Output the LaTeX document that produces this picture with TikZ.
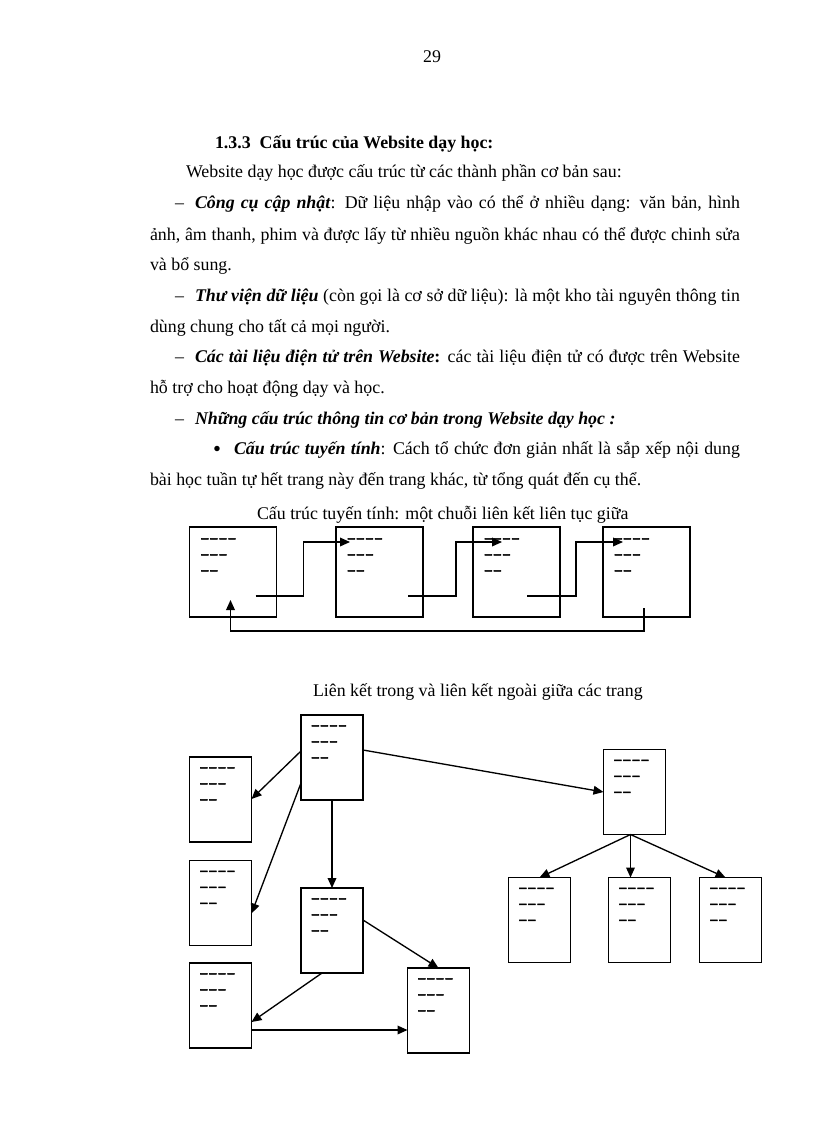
\documentclass[tikz,border=0pt]{standalone}
\usepackage{fontspec}
\setmainfont{Liberation Serif}
\newfontfamily\dashfont{Liberation Serif Bold}[FakeBold=4]
\usetikzlibrary{arrows.meta,calc}
\newcommand\ed{–\kern1.8pt}
\newcommand\dsh{\vtop{\dashfont\fontsize{10}{12}\selectfont\baselineskip=12pt\lineskiplimit=-30pt\lineskip=0pt\hbox{\ed\ed\ed–}\hbox{\ed\ed–}\hbox{\ed–}}}
\begin{document}
\begin{tikzpicture}[x=0.75pt,y=-0.75pt,font=\fontsize{13.4}{16}\selectfont]
\tikzset{
  pg/.style={draw, line width=1.4pt, inner sep=0pt, outer sep=0pt, minimum width=65.25pt, minimum height=67.5pt},
  pgs/.style={pg, line width=1.2pt, minimum width=46.5pt, minimum height=63.75pt},
  txt/.style={anchor=base west, inner sep=0pt, outer sep=0pt},
  dd/.style={anchor=base west, inner sep=0pt, outer sep=0pt},
  link/.style={line width=1pt, -{Triangle[length=7.5pt,width=6.5pt]}}
}
\fill[white] (0,0) rectangle (816,1123);
\useasboundingbox (0,0) rectangle (816,1123);

% ---------- text ----------
\node[anchor=base, inner sep=0pt] (pn) at (432,63) {29};
\node[txt, font=\fontsize{13.4}{16}\selectfont\bfseries] (h) at (215,149) {1.3.3\ \ Cấu trúc của Website dạy học:};
\node[txt] (l0) at (186,178) {Website dạy học được cấu trúc từ các thành phần cơ bản sau:};
\node[txt] (d1) at (175,209) {–};
\node[txt] (l1) at (195,209) {\makebox[408.75pt][s]{\textbf{\textit{Công cụ cập nhật}}: Dữ liệu nhập vào có thể ở nhiều dạng: văn bản, hình}};
\node[txt] (l2) at (150,240) {\makebox[442.5pt][s]{ảnh, âm thanh, phim và được lấy từ nhiều nguồn khác nhau có thể được chinh sửa}};
\node[txt] (l3) at (150,270) {và bổ sung.};
\node[txt] (d2) at (175,301) {–};
\node[txt] (l4) at (195,301) {\makebox[408.75pt][s]{\textbf{\textit{Thư viện dữ liệu}} (còn gọi là cơ sở dữ liệu): là một kho tài nguyên thông tin}};
\node[txt] (l5) at (150,332) {dùng chung cho tất cả mọi người.};
\node[txt] (d3) at (175,362) {–};
\node[txt] (l6) at (195,362) {\makebox[408.75pt][s]{\textbf{\textit{Các tài liệu điện tử trên Website}:} các tài liệu điện tử có được trên Website}};
\node[txt] (l7) at (150,393) {hỗ trợ cho hoạt động dạy và học.};
\node[txt] (d4) at (175,424) {–};
\node[txt] (l8) at (195,424) {\textbf{\textit{Những cấu trúc thông tin cơ bản trong Website dạy học :}}};
\node[txt, font=\fontsize{17}{17}\selectfont] (bu) at (213,456) {•};
\node[txt] (l9) at (234,454) {\makebox[379.5pt][s]{\textbf{\textit{Cấu trúc tuyến tính}}: Cách tổ chức đơn giản nhất là sắp xếp nội dung}};
\node[txt] (l10) at (150,485) {bài học tuần tự hết trang này đến trang khác, từ tổng quát đến cụ thể.};
\node[txt] (c1) at (257,519) {Cấu trúc tuyến tính: một chuỗi liên kết liên tục giữa};
\node[txt] (c2) at (313,696) {Liên kết trong và liên kết ngoài giữa các trang};

% ---------- linear structure ----------
\node[pg] (b1) at (233,572) {};
\node[pg] (b2) at (379.5,572) {};
\node[pg] (b3) at (516.5,572) {};
\node[pg] (b4) at (646.5,572) {};
\foreach \b in {b1,b2,b3,b4}{
  \node[dd] (\b t) at ($(\b.north west)+(12,15)$) {\dsh};
}
\draw[link] ($(b1.north west)+(66,69)$) -- ++(48,0) |- ($(b2.north west)+(14,15)$);
\draw[link] ($(b2.north west)+(72,69)$) -- ++(48,0) |- ($(b3.north west)+(29,15)$);
\draw[link] ($(b3.north west)+(54,69)$) -- ++(49,0) |- ($(b4.north west)+(20,15)$);
\draw[link] ($(b4.north west)+(41,81)$) -- ++(0,23) -| ($(b1.north west)+(41,73)$);

% ---------- internal / external links ----------
\node[pgs] (T)  at (332,757.5) {};
\node[pgs] (L1) at (220.5,799.5) {};
\node[pgs] (L2) at (220.5,903) {};
\node[pgs] (L3) at (220.5,1005.5) {};
\node[pgs] (M)  at (332,930.5) {};
\node[pgs] (B)  at (438.5,1010.5) {};
\node[pgs] (R)  at (634.5,792) {};
\node[pgs] (R1) at (539.5,920) {};
\node[pgs] (R2) at (639.5,920) {};
\node[pgs] (R3) at (730.5,920) {};
\foreach \b in {T,L1,L2,L3,M,B,R,R1,R2,R3}{
  \node[dd] (\b t) at ($(\b.north west)+(11,14)$) {\dsh};
}
\draw[link] ($(T.north west)+(0,36)$) -- ($(L1.north east)+(0,42)$);
\draw[link] ($(T.north west)+(0,68)$) -- ($(L2.north east)+(0,53)$);
\draw[link] (T.south) -- (M.north);
\draw[link] ($(M.north east)+(0,32)$) -- (B.north);
\draw[link] ($(M.south west)+(21,0)$) -- ($(L3.north east)+(0,59)$);
\coordinate (s3) at ($(L3.north east)+(0,67)$);
\draw[link] (s3) -- (s3 -| B.west);
\draw[link] ($(T.north east)+(0,35)$) -- (R.west);
\coordinate (fk) at ($(R.south west)+(27,0)$);
\draw[link] (fk) -- (R1.north);
\draw[link] (fk) -- (fk |- R2.north);
\draw[link] (fk) -- ($(R3.north west)+(26,0)$);
\end{tikzpicture}
\end{document}
